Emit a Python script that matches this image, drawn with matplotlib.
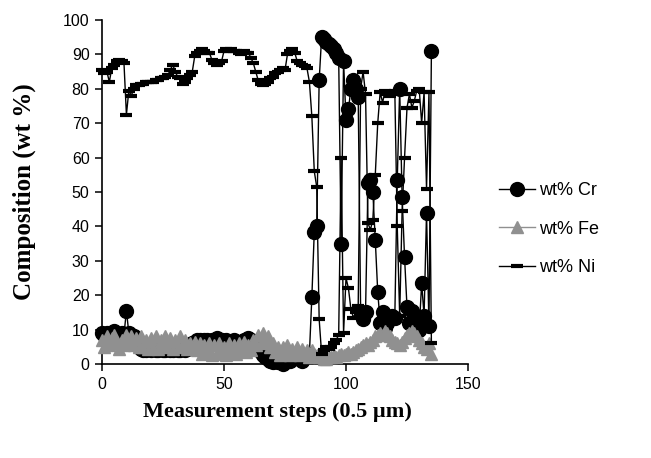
import matplotlib
matplotlib.use("Agg")
import matplotlib.pyplot as plt


# шаги измерения (по 0.5 мкм)
steps = list(range(136))

# состав, масс. %
cr = [9, 8.5, 9, 8, 9, 9.5, 8.5, 8, 9, 8.5,
      15.5, 9, 8.5, 8, 6, 5, 4.5, 4, 4, 4.5,
      4, 4.5, 4, 4, 4.5, 4, 4, 4.5, 4, 4,
      4.5, 4, 4, 4.5, 4, 4.5, 5, 6, 6.5, 7,
      7, 6.5, 7, 7, 6.5, 7, 7, 7.5, 7, 7,
      6.5, 7, 6.5, 6.5, 7, 6.5, 6, 6.5, 7, 7,
      7.5, 7, 6.5, 5.5, 4.5, 3.5, 2.5, 2, 1.5, 1,
      0.5, 1, 0.5, 0.5, 0, 0.5, 1, 1, 1.5, 2,
      2.5, 1.5, 1, 2, 2.5, 3,
      19.5, 38.5, 40, 82.5, 95, 94.5, 93.5, 93, 92.5, 91.5,
      90.5, 89, 35, 88, 71, 74, 80, 82.5, 80, 77.5,
      15, 13, 15, 52.5, 53.5, 50, 36, 21, 12, 15,
      10.5, 12, 13.5, 14, 13.5, 53.5, 80, 48.5, 31, 16.5,
      12, 15.5, 14, 12, 10, 23.5, 14, 44, 11, 91]

fe = [7, 5, 8, 5.5, 7.5, 8.5, 6, 4.5, 7, 5.5,
      8.5, 6, 8, 5.5, 7.5, 5, 8, 5, 7, 4.5,
      7.5, 5, 8, 4.5, 7, 5.5, 8, 5, 7.5, 4.5,
      7, 5, 8, 5.5, 7, 4.5, 6, 5, 6.5, 4,
      6, 3, 5.5, 3.5, 6, 2.5, 5.5, 3, 6, 3.5,
      5, 2.5, 6, 3.5, 5.5, 3, 6, 4, 6.5, 3.5,
      5.5, 4, 7, 5.5, 8.5, 6, 9, 6.5, 8, 5,
      6, 3.5, 5, 2.5, 5, 3, 5.5, 2.5, 4.5, 3,
      5, 2.5, 4.5, 3, 4, 2,
      4, 3, 2.5, 2, 2, 1.5, 1.5, 2, 2, 2.5,
      2, 2.5, 3, 2.5, 3, 3.5, 3, 3.5, 4, 4.5,
      5, 5.5, 6, 5.5, 6.5, 7, 8, 8.5, 9, 8.5,
      9.5, 9, 8, 7, 6.5, 6, 5.5, 6.5, 7.5, 8.5,
      9, 9.5, 9, 8, 7, 6, 5, 4.5, 6, 3]

ni = [85.5, 84.5, 85, 82, 86, 87, 88, 88.5, 88, 87.5,
      72.5, 79.5, 78, 80, 81, 81, 81.5, 81.5, 82, 82,
      82, 82, 82.5, 82.5, 83, 83, 83.5, 84, 85.5, 87,
      85, 83.5, 83, 81.5, 82, 83, 84, 85, 89.5, 90.5,
      91, 91.5, 91, 90.5, 90.5, 88.5, 87.5, 87, 87.5, 88,
      91, 91.5, 91, 91.5, 91, 91, 90.5, 90, 91, 90.5,
      90.5, 89, 87.5, 85, 82.5, 81.5, 81, 81.5, 82, 83,
      83.5, 84.5, 85, 85.5, 86, 85.5, 90, 91, 91.5, 90.5,
      88, 87.5, 87, 86.5, 86, 82,
      72, 56, 51.5, 13, 3, 4, 5, 4.5, 5, 6,
      7, 8.5, 60, 9, 25, 22, 16, 13.5, 15, 17,
      80, 85, 78.5, 41, 39, 42, 55, 70, 79, 76,
      79.5, 78.5, 78, 78.5, 79.5, 40, 14, 44.5, 60, 74.5,
      78.5, 74.5, 76.5, 79.5, 80, 70, 79, 51, 79, 6]

series = ["wt% Cr", "wt% Fe", "wt% Ni"]

sans = ["Liberation Sans", "DejaVu Sans"]
serif = ["Liberation Serif", "DejaVu Serif"]

fig = plt.figure(figsize=(6.51, 4.58), dpi=100)
ax = fig.add_axes([0.1567, 0.2052, 0.5622, 0.7511])

# Cr — кружки, Fe — серые треугольники, Ni — чёрточки
ax.plot(steps, cr, color="black", lw=1.0, marker="o", markersize=10,
        markerfacecolor="black", markeredgecolor="black",
        label=series[0], clip_on=False, zorder=2)
ax.plot(steps, fe, color="#909090", lw=1.0, marker="^", markersize=8,
        markerfacecolor="#909090", markeredgecolor="#909090",
        label=series[1], clip_on=False, zorder=3)
ax.plot(steps, ni, color="black", lw=1.0, marker="_", markersize=9,
        markeredgewidth=3, label=series[2], clip_on=False, zorder=4)

ax.set_xlim(0, 150)
ax.set_ylim(0, 100)
ax.set_xticks([0, 50, 100, 150])
ax.set_yticks(range(0, 101, 10))

for s in ["top", "right"]:
    ax.spines[s].set_visible(False)
for s in ["left", "bottom"]:
    ax.spines[s].set_linewidth(1.2)

ax.tick_params(direction="out", length=5, width=1.1, pad=4)
for lab in ax.get_xticklabels() + ax.get_yticklabels():
    lab.set_family(sans)
    lab.set_fontsize(11.5)

ax.set_xlabel("Measurement steps (0.5 µm)", family=serif, fontweight="bold",
              fontsize=16)
ax.set_ylabel("Composition (wt %)", family=serif, fontweight="bold",
              fontsize=18)
ax.xaxis.set_label_coords(0.48, -0.11)
ax.yaxis.set_label_coords(-0.18, 0.5)

# легенда справа от графика
fig.legend(loc="center left", bbox_to_anchor=(0.752, 0.5), frameon=False,
           prop={"family": sans, "size": 13}, handlelength=2.0,
           handletextpad=0.25, labelspacing=1.2, borderpad=0)

fig.savefig("out.png", dpi=100)
